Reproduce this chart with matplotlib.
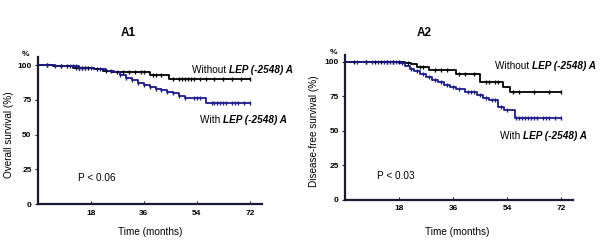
import numpy as np
import matplotlib
matplotlib.use('Agg')
import matplotlib.pyplot as plt

plt.rcParams['font.family'] = ['Liberation Sans', 'DejaVu Sans']

# Panel A1 - overall survival
a1_black_t = [0, 5, 12, 19, 22, 25, 38, 44.5]
a1_black_s = [100, 99, 98, 97, 96, 95, 93, 90]
a1_black_cens = [3, 8, 10, 13, 14, 15, 16, 17, 20, 23, 27, 29, 31, 33, 35, 36,
                 39, 40, 42, 46, 48, 49, 50, 51, 52, 53, 55, 57, 60, 63, 66, 69, 72]
a1_blue_t = [0, 6, 14, 19, 23, 26, 28, 30, 32, 34, 36, 38, 40, 42, 44, 46, 48, 50, 57]
a1_blue_s = [100, 99, 98, 97, 96, 95, 93, 91, 89, 87, 86, 84.5, 83, 82, 81, 80, 78, 76, 73]
a1_blue_cens = [3, 6, 8, 11, 12, 13, 14, 15, 16, 18, 21, 25, 28, 30, 32, 34, 36, 38,
                40, 42, 44, 46, 48, 50, 53, 54, 55, 59, 60, 61, 62, 63, 64, 66, 67, 68, 70, 72]

# Panel A2 - disease-free survival
a2_black_t = [0, 20, 22, 24, 28, 37, 45, 52.5, 55]
a2_black_s = [100, 99, 98, 96, 94, 91, 85.5, 82, 78]
a2_black_cens = [3, 7, 10, 12, 14, 16, 18, 21, 25, 26, 30, 32, 34, 38, 40, 43,
                 47, 48, 50, 51, 56, 58, 63, 68, 72]
a2_blue_t = [0, 12, 18, 20, 21.5, 23, 25, 27, 29, 31, 33, 35, 37, 40, 44, 46, 48, 51, 53, 56.5]
a2_blue_s = [100, 99.5, 99, 97, 95, 93, 91, 89, 87, 85, 83, 81.5, 80, 78, 76, 74, 72, 67, 65, 59]
a2_blue_cens = [4, 7, 9, 11, 13, 14, 15, 16, 17, 19, 22, 24, 26, 28, 30, 32, 34, 36, 38,
                41, 42, 43, 45, 47, 49, 50, 52, 54, 57, 58, 59, 60, 61, 62, 63, 64, 66, 67, 68, 70, 72]

xticks = [18, 36, 54, 72]
yticks = [0, 25, 50, 75, 100]

BLUE = '#1c1c8c'
AXC = '#1a1a33'


def km(ax, t, s, cens, color, tmax=72):
    t = list(t) + [tmax]
    s = list(s) + [s[-1]]
    ax.step(t, s, where='post', color=color, lw=1.3, zorder=3)
    idx = np.searchsorted(t[:-1], cens, side='right') - 1
    ax.plot(cens, np.array(s)[idx], ls='none', marker='|', ms=3.5, mew=1.0,
            color=color, zorder=4)


def setup(ax, top):
    ax.set_xlim(0, 76)
    ax.set_ylim(0, top)
    for side in ['top', 'right']:
        ax.spines[side].set_visible(False)
    for side in ['left', 'bottom']:
        ax.spines[side].set_linewidth(1.6)
        ax.spines[side].set_color(AXC)
    ax.set_xticks(xticks)
    ax.set_yticks(yticks)
    ax.tick_params(axis='x', direction='in', length=2, width=0.8, pad=4,
                   labelsize=6, colors=AXC)
    ax.tick_params(axis='y', direction='out', length=2.5, width=0.8, pad=2,
                   labelsize=6, colors=AXC)
    for lab in ax.get_xticklabels() + ax.get_yticklabels():
        lab.set_fontweight('bold')
        lab.set_color('black')


def label(x, y, lead):
    # plain lead-in followed by the bold italic genotype
    t = fig.text(x / 600, 1 - y / 248, lead, fontsize=7.2, va='baseline')
    fig.add_artist(plt.Annotation('LEP (-2548) A', xy=(1, 0), xycoords=t,
                                  fontsize=7.2, fontweight='bold', fontstyle='italic',
                                  va='bottom', ha='left'))


fig = plt.figure(figsize=(6, 2.48), dpi=100)
ax1 = fig.add_axes([0.063, 0.177, 0.373, 0.593])
ax2 = fig.add_axes([0.575, 0.194, 0.38, 0.585])

km(ax1, a1_black_t, a1_black_s, a1_black_cens, 'black')
km(ax1, a1_blue_t, a1_blue_s, a1_blue_cens, BLUE)
setup(ax1, 105.8)

km(ax2, a2_black_t, a2_black_s, a2_black_cens, 'black')
km(ax2, a2_blue_t, a2_blue_s, a2_blue_cens, BLUE)
setup(ax2, 105)

fig.text(9 / 600, 1 - 135 / 248, 'Overall survival (%)', fontsize=7.2,
         rotation=90, ha='center', va='center')
fig.text(314 / 600, 1 - 131 / 248, 'Disease-free survival (%)', fontsize=7.2,
         rotation=90, ha='center', va='center')
fig.text(150 / 600, 1 - 232 / 248, 'Time (months)', fontsize=7.2,
         ha='center', va='center')
fig.text(457 / 600, 1 - 232 / 248, 'Time (months)', fontsize=7.2,
         ha='center', va='center')

fig.text(128 / 600, 1 - 33 / 248, 'A1', fontsize=8.5, fontweight='bold',
         ha='center', va='center')
fig.text(424 / 600, 1 - 33 / 248, 'A2', fontsize=8.5, fontweight='bold',
         ha='center', va='center')
fig.text(25 / 600, 1 - 55 / 248, '%', fontsize=6, fontweight='bold', ha='center', va='center')
fig.text(333 / 600, 1 - 53 / 248, '%', fontsize=6, fontweight='bold', ha='center', va='center')

label(192, 73, 'Without ')
label(200, 123, 'With ')
fig.text(78 / 600, 1 - 178 / 248, 'P < 0.06', fontsize=7.2, va='center')

label(495, 69, 'Without ')
label(500, 139, 'With ')
fig.text(377 / 600, 1 - 176 / 248, 'P < 0.03', fontsize=7.2, va='center')

fig.savefig('out.png', dpi=100)
